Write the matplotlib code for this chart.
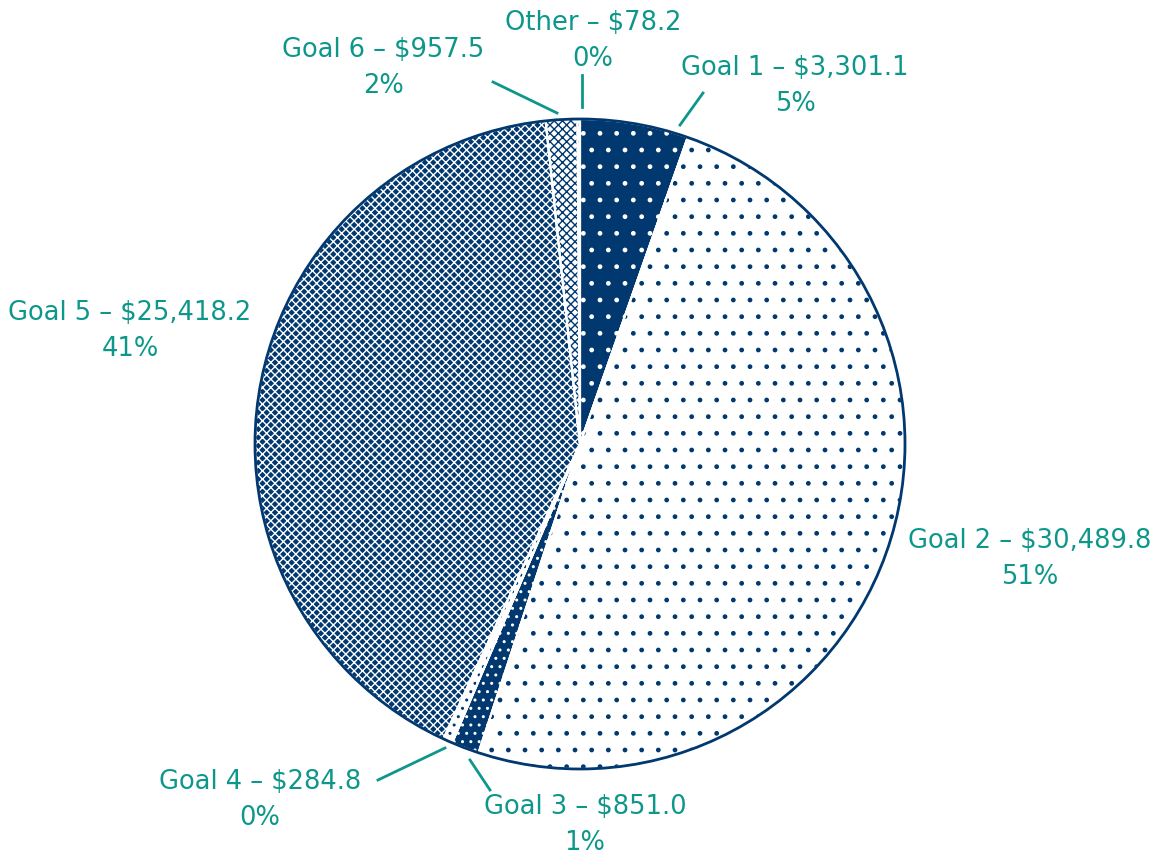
import numpy as np
import matplotlib
matplotlib.use('Agg')
import matplotlib.pyplot as plt

labels = ['Goal 1', 'Goal 2', 'Goal 3', 'Goal 4', 'Goal 5', 'Goal 6', 'Other']
values = [3301.1, 30489.8, 851.0, 284.8, 25418.2, 957.5, 78.2]
pct_labels = ['5%', '51%', '1%', '0%', '41%', '2%', '0%']

NAVY = '#00386f'
TEAL = '#0d978b'

# fill colour, hatch, hatch colour for each slice
styles = [
    (NAVY, '.', 'white'),
    ('white', '.', NAVY),
    (NAVY, '..', 'white'),
    ('white', '..', NAVY),
    (NAVY, 'xxxx', 'white'),
    ('white', 'xxxx', NAVY),
    ('white', '..', NAVY),
]

# label placement in pixels (text centre, first line) and leader lines
label_px = [(795, 68), (1030, 541), (585, 807), (260, 782), (130, 313), (383, 50), (593, 23)]
leader_px = [((703, 93), (680, 125)), None, ((470, 760), (490, 790)),
             ((445, 748), (378, 780)), None, ((493, 82), (557, 113)),
             ((582, 75), (582, 107))]

W, H = 1162, 856
cx, cy, R = 580, 444, 325


def to_data(p):
    return (p[0] - cx) / R, (cy - p[1]) / R


plt.rcParams['hatch.linewidth'] = 1.0
fig = plt.figure(figsize=(W / 100, H / 100), dpi=100)
ax = fig.add_axes([0, 0, 1, 1])

# base fills
wedges, _ = ax.pie(values, startangle=90, counterclock=False, radius=1,
                   colors=[s[0] for s in styles],
                   wedgeprops=dict(edgecolor='white', linewidth=1.5))
# hatch overlays
hw, _ = ax.pie(values, startangle=90, counterclock=False, radius=1,
               colors=['none'] * len(values),
               wedgeprops=dict(linewidth=0))
for w, s in zip(hw, styles):
    w.set_hatch(s[1])
    w.set_edgecolor(s[2])
    w.set_linewidth(0)
# white slice separators again on top
ax.pie(values, startangle=90, counterclock=False, radius=1,
       colors=['none'] * len(values),
       wedgeprops=dict(edgecolor='white', linewidth=1.5))
ax.add_patch(plt.Circle((0, 0), 1, fill=False, edgecolor=NAVY, linewidth=2))

ax.set_xlim(-cx / R, (W - cx) / R)
ax.set_ylim(-(H - cy) / R, cy / R)
ax.set_aspect('equal')
ax.axis('off')

font = dict(color=TEAL, fontsize=18.5, fontweight='normal', family='DejaVu Sans')
for lab, val, pct, pos, ld in zip(labels, values, pct_labels, label_px, leader_px):
    x, y = to_data(pos)
    ax.text(x, y, f'{lab} \u2013 ${val:,.1f}', ha='center', va='center', **font)
    x2, y2 = to_data((pos[0], pos[1] + 36))
    ax.text(x2, y2, pct, ha='center', va='center', **font)
    if ld is not None:
        a, b = to_data(ld[0]), to_data(ld[1])
        ax.plot([a[0], b[0]], [a[1], b[1]], color=TEAL, linewidth=2)

fig.savefig('out.png', dpi=100)
